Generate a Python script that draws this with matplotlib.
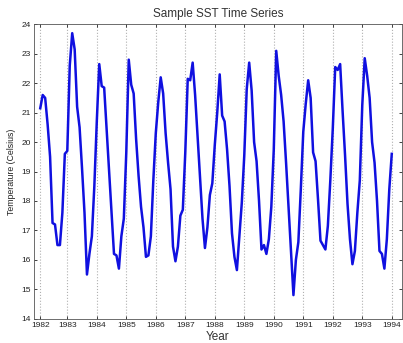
import matplotlib
matplotlib.use("Agg")
import matplotlib.pyplot as plt
import numpy as np

# monthly SST values, Feb 1982 .. Jan 1994
sst = [
    21.15, 21.6, 21.5, 20.6, 19.5, 17.25, 17.2, 16.5, 16.5, 17.6, 19.6, 19.7,
    22.6, 23.7, 23.15, 21.2, 20.5, 19.1, 17.6, 15.5, 16.2, 16.8, 18.5, 20.7,
    22.65, 21.9, 21.85, 20.45, 19.1, 17.6, 16.2, 16.15, 15.7, 16.8, 17.4, 19.65,
    22.8, 21.95, 21.65, 20.1, 18.85, 17.8, 17.1, 16.1, 16.15, 16.8, 18.7, 20.3,
    21.35, 22.2, 21.65, 20.3, 19.3, 18.4, 16.45, 15.95, 16.45, 17.5, 17.7, 19.65,
    22.15, 22.1, 22.7, 21.6, 20.2, 18.85, 17.4, 16.4, 17.1, 18.2, 18.6, 19.9,
    21.0, 22.3, 20.9, 20.7, 19.75, 18.5, 16.9, 16.1, 15.65, 16.8, 17.95, 19.55,
    21.8, 22.7, 21.75, 20.0, 19.35, 18.0, 16.35, 16.5, 16.2, 16.7, 17.8, 19.75,
    23.1, 22.25, 21.6, 20.7, 19.3, 17.8, 16.35, 14.8, 16.0, 16.6, 18.4, 20.35,
    21.3, 22.1, 21.5, 19.65, 19.35, 18.05, 16.65, 16.5, 16.35, 17.15, 18.7, 20.45,
    22.55, 22.45, 22.65, 21.05, 19.55, 17.9, 16.7, 15.85, 16.3, 17.6, 18.7, 21.25,
    22.85, 22.25, 21.5, 20.0, 19.3, 18.0, 16.3, 16.2, 15.7, 16.7, 18.4, 19.6,
]
years = list(range(1982, 1995))
year_labels = [str(y) for y in years]

t = 1982 + (np.arange(len(sst)) + 1) / 12.0

plt.rcParams['font.family'] = ['Liberation Sans', 'DejaVu Sans']

fig = plt.figure(figsize=(4.03, 3.43), dpi=100)
ax = fig.add_axes([0.085, 0.071, 0.912, 0.858])

ax.plot(t, sst, color='#1010e0', linewidth=1.8)

# first tick sits on the first sample, like matlab datetick did
ticks = [t[0]] + years[1:]
ax.set_xticks(ticks)
ax.set_xticklabels(year_labels)
ax.set_xlim(1981.88, 1994.34)
ax.set_ylim(14, 24)
ax.set_yticks(np.arange(14, 25, 1))

ax.xaxis.grid(True, linestyle=':', color='#b0b0b0', linewidth=0.8)
ax.tick_params(direction='in', length=2.5, width=0.6, labelsize=6,
               pad=2.5, colors='#222222', top=True, right=True)
for s in ax.spines.values():
    s.set_color('#555555')
    s.set_linewidth(0.6)

ax.set_title('Sample SST Time Series', fontsize=8.5, color='#333333', pad=5)
ax.set_xlabel('Year', fontsize=8.5, color='#333333', labelpad=1)
ax.set_ylabel('Temperature (Celsius)', fontsize=6.3, color='#222222', labelpad=4)

fig.savefig('out.png', dpi=100)
